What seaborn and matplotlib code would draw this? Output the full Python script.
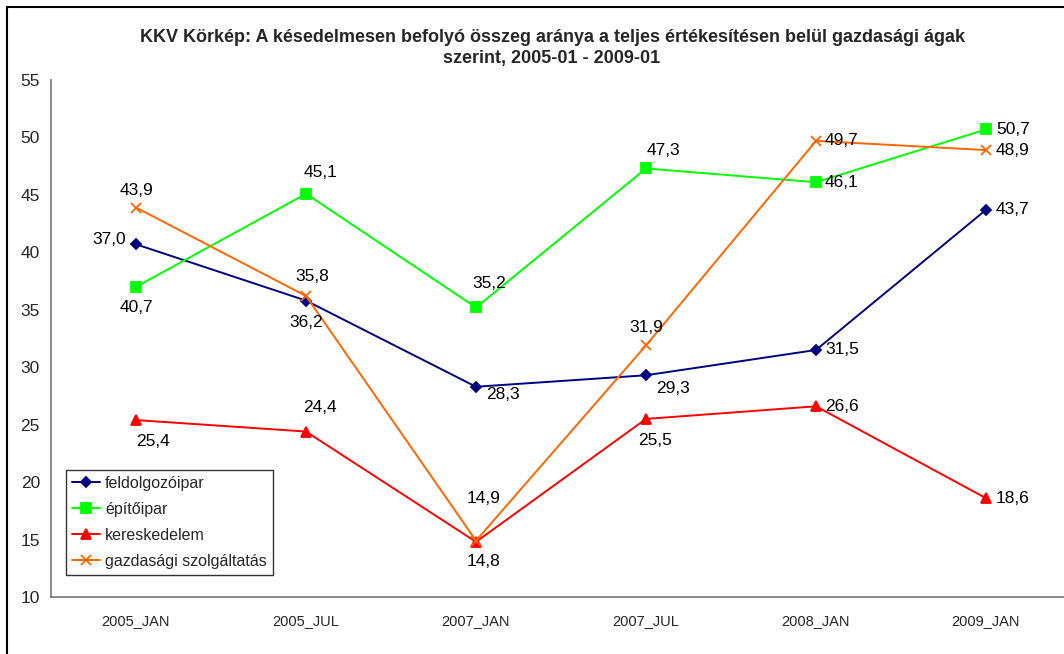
"""
KKV Körkép - késedelmesen befolyó összeg aránya gazdasági ágak szerint
"""
import matplotlib
matplotlib.use("Agg")
import matplotlib.pyplot as plt
from matplotlib.patches import Rectangle
import seaborn as sns
import numpy as np

# Adatok
periods = ["2005_JAN", "2005_JUL", "2007_JAN", "2007_JUL", "2008_JAN", "2009_JAN"]
feldolgozoipar = [40.7, 35.8, 28.3, 29.3, 31.5, 43.7]
epitoipar = [37.0, 45.1, 35.2, 47.3, 46.1, 50.7]
kereskedelem = [25.4, 24.4, 14.8, 25.5, 26.6, 18.6]
gazd_szolg = [43.9, 36.2, 14.9, 31.9, 49.7, 48.9]

# Címkék úgy, ahogy az eredeti ábrán állnak
labels_feld = ["37,0", "36,2", "28,3", "29,3", "31,5", "43,7"]
labels_epit = ["40,7", "45,1", "35,2", "47,3", "46,1", "50,7"]
labels_ker = ["25,4", "24,4", "14,8", "25,5", "26,6", "18,6"]
labels_gazd = ["43,9", "35,8", "14,9", "31,9", "49,7", "48,9"]

series_names = ["feldolgozóipar", "építőipar", "kereskedelem", "gazdasági szolgáltatás"]
series_values = [feldolgozoipar, epitoipar, kereskedelem, gazd_szolg]
series_labels = [labels_feld, labels_epit, labels_ker, labels_gazd]

colors = ["#000080", "#00FF00", "#FF0000", "#FF6600"]
markers = ["D", "s", "^", "x"]
msizes = [5.5, 6.5, 7, 7]

# címke eltolások pixelben (dx, dy, ha)
offsets = [
    [(-10, 5, "right"), (0, -22, "center"), (10, -8, "left"), (10, -13, "left"), (9, 0, "left"), (10, 0, "left")],
    [(0, -21, "center"), (15, 21, "center"), (13, 24, "center"), (17, 18, "center"), (9, 0, "left"), (10, 0, "left")],
    [(17, -21, "center"), (14, 24, "center"), (8, -20, "center"), (9, -22, "center"), (9, 0, "left"), (10, 0, "left")],
    [(0, 17, "center"), (6, 19, "center"), (8, 42, "center"), (0, 18, "center"), (9, 0, "left"), (10, 0, "left")],
]

sns.set_style("white")
plt.rcParams["font.family"] = ["Liberation Sans", "DejaVu Sans"]

fig = plt.figure(figsize=(10.64, 6.54), dpi=100)
ax = fig.add_axes([51 / 1064, 57 / 654, 1020 / 1064, 517 / 654])

x = np.arange(len(periods))

for name, vals, col, mk, ms in zip(series_names, series_values, colors, markers, msizes):
    sns.lineplot(x=x, y=vals, ax=ax, color=col, marker=mk, markersize=ms,
                 markeredgecolor=col, markerfacecolor=col, markeredgewidth=1.3,
                 linewidth=1.4, label=name, sort=False)

for vals, labs, offs in zip(series_values, series_labels, offsets):
    for i, (v, t) in enumerate(zip(vals, labs)):
        dx, dy, ha = offs[i]
        ax.annotate(t, (i, v), xytext=(dx, dy), textcoords="offset pixels",
                    ha=ha, va="center", fontsize=12.5, color="black")

ax.set_xlim(-0.5, 5.5)
ax.set_ylim(10, 55)
ax.set_yticks(range(10, 56, 5))
ax.set_xticks(x)
ax.set_xticklabels(periods, fontsize=10.5)
ax.set_xticks(np.arange(-0.5, 6, 1), minor=True)
ax.tick_params(axis="x", which="major", length=0, pad=12)
ax.tick_params(axis="x", which="minor", length=5, color="#808080", width=1, direction="out")
ax.tick_params(axis="y", length=5, color="#808080", width=1, direction="out", labelsize=12.5, pad=3)
ax.set_xlabel("")
ax.set_ylabel("")
ax.grid(False)

for s in ["top", "right"]:
    ax.spines[s].set_visible(False)
for s in ["left", "bottom"]:
    ax.spines[s].set_color("#808080")
    ax.spines[s].set_linewidth(1.3)

leg = ax.legend(loc="lower left", bbox_to_anchor=(15 / 1020, 22 / 517), borderaxespad=0,
                fontsize=11.5, frameon=True, fancybox=False, handlelength=1.7,
                labelspacing=0.68, borderpad=0.4, handletextpad=0.35)
leg.get_frame().set_edgecolor("black")
leg.get_frame().set_linewidth(1.0)

fig.text(552 / 1064, 1 - 48 / 654,
         "KKV Körkép: A késedelmesen befolyó összeg aránya a teljes értékesítésen belül gazdasági ágak\nszerint, 2005-01 - 2009-01",
         ha="center", va="center", fontsize=13, fontweight="bold", linespacing=1.25)

# diagram keret
fig.patches.append(Rectangle((7 / 1064, -0.2), 1.2, 1.2 - 7 / 654, transform=fig.transFigure,
                             fill=False, edgecolor="black", linewidth=1.5))

fig.savefig("out.png", dpi=100)
